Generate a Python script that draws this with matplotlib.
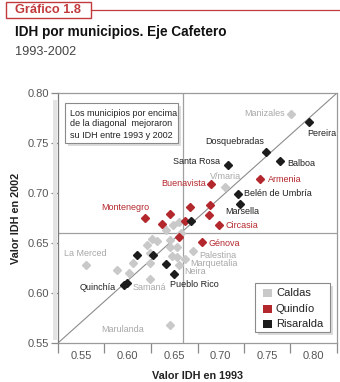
import matplotlib
matplotlib.use("Agg")
import matplotlib.pyplot as plt
from matplotlib.patches import Rectangle
from matplotlib.lines import Line2D
import numpy as np

plt.rcParams['font.family'] = ['Liberation Sans', 'DejaVu Sans']

# IDH 1993 (x) y 2002 (y) por departamento
caldas_x = [0.759, 0.700, 0.653, 0.658, 0.647, 0.660, 0.639, 0.634, 0.630, 0.650,
            0.657, 0.650, 0.652, 0.657, 0.632, 0.617, 0.632, 0.603, 0.614, 0.632,
            0.671, 0.664, 0.658, 0.575, 0.650]
caldas_y = [0.779, 0.706, 0.668, 0.671, 0.663, 0.660, 0.652, 0.654, 0.648, 0.653,
            0.646, 0.646, 0.637, 0.636, 0.640, 0.630, 0.630, 0.623, 0.620, 0.614,
            0.642, 0.634, 0.628, 0.628, 0.568]
quindio_x = [0.687, 0.731, 0.628, 0.650, 0.668, 0.686, 0.685, 0.643, 0.664, 0.694,
             0.658, 0.679]
quindio_y = [0.709, 0.714, 0.675, 0.679, 0.686, 0.688, 0.678, 0.669, 0.672, 0.668,
             0.656, 0.651]
risaralda_x = [0.775, 0.736, 0.702, 0.749, 0.711, 0.713, 0.669, 0.621, 0.635, 0.647,
               0.654, 0.609, 0.612]
risaralda_y = [0.771, 0.741, 0.728, 0.732, 0.699, 0.689, 0.672, 0.638, 0.638, 0.629,
               0.619, 0.608, 0.610]

# etiquetas: (nombre, serie, indice, dx px, dy px, alineacion)
labels = [
    ("Manizales", "c", 0, -6, 1, "right"),
    ("V/maria", "c", 1, 0, 10.5, "center"),
    ("Palestina", "c", 20, 6, -4, "left"),
    ("Marquetalia", "c", 21, 5, -4.5, "left"),
    ("Neira", "c", 22, 5.5, -7, "left"),
    ("La Merced", "c", 23, -1, 12, "center"),
    ("Samaná", "c", 19, 0, -9, "center"),
    ("Marulanda", "c", 24, -26, -5, "right"),
    ("Buenavista", "q", 0, -5, 1, "right"),
    ("Armenia", "q", 1, 8, -1, "left"),
    ("Montenegro", "q", 2, 4, 10, "right"),
    ("Circasia", "q", 9, 7, 0, "left"),
    ("Génova", "q", 11, 7, -1, "left"),
    ("Pereira", "r", 0, -2, -11, "left"),
    ("Dosquebradas", "r", 1, -1, 10, "right"),
    ("Santa Rosa", "r", 2, -8, 4, "right"),
    ("Balboa", "r", 3, 7, -3, "left"),
    ("Belén de Umbría", "r", 4, 6, 0, "left"),
    ("Marsella", "r", 5, 2, -8, "center"),
    ("Pueblo Rico", "r", 10, -4, -10.7, "left"),
    ("Quinchía", "r", 11, -8, -2.7, "right"),
]

ref_x = 0.662
ref_y = 0.66
ticks = ["0.55", "0.60", "0.65", "0.70", "0.75", "0.80"]

C_GRAY = "#c9c9c9"
C_RED = "#b3282d"
C_BLACK = "#1c1c1c"
colors = {"c": C_GRAY, "q": C_RED, "r": C_BLACK}
txt_colors = {"c": "#a8a8a8", "q": C_RED, "r": "#222222"}
series = {"c": (caldas_x, caldas_y), "q": (quindio_x, quindio_y),
          "r": (risaralda_x, risaralda_y)}

W, H = 340, 382


def fx(px):
    return px / W


def fy(py):
    return 1 - py / H


fig = plt.figure(figsize=(W / 100, H / 100), dpi=100)

# encabezado
red = "#c13a3c"
fig.patches.append(Rectangle((fx(6), fy(18)), fx(91) - fx(6), fy(2) - fy(18),
                             transform=fig.transFigure, facecolor="white",
                             edgecolor=red, lw=1.0))
fig.lines.append(Line2D([fx(91), fx(340)], [fy(9.5), fy(9.5)],
                        transform=fig.transFigure, color=red, lw=0.9))
fig.text(fx(48), fy(10), "Gráfico 1.8", color=red, fontsize=9.2,
         fontweight="bold", va="center", ha="center")
fig.text(fx(15), fy(32), "IDH por municipios. Eje Cafetero", color="#111111",
         fontsize=9.8, fontweight="bold", va="center", ha="left")
fig.text(fx(15), fy(52), "1993-2002", color="#444444", fontsize=9.2,
         va="center", ha="left")

# sombra del area del grafico
fig.patches.append(Rectangle((fx(53), fy(340)), fx(4), fy(100) - fy(340),
                             transform=fig.transFigure, facecolor="#e3e3e3",
                             edgecolor="none"))

ax = fig.add_axes([fx(58), fy(343), fx(337) - fx(58), fy(93) - fy(343)])
ax.set_xlim(0.55, 0.80)
ax.set_ylim(0.55, 0.80)

for s in ax.spines.values():
    s.set_color("#9a9a9a")
    s.set_linewidth(0.9)
ax.spines["left"].set_color("#7a7a7a")

ax.plot([0.55, 0.80], [0.55, 0.80], color="#8c8c8c", lw=0.8, zorder=1)
ax.axvline(ref_x, color="#a0a0a0", lw=0.9, zorder=1)
ax.axhline(ref_y, color="#a0a0a0", lw=0.9, zorder=1)

for k in ["c", "q", "r"]:
    xs, ys = series[k]
    ax.plot(xs, ys, ls="none", marker="D", ms=4.2, color=colors[k],
            mec=colors[k], zorder=3)

for name, k, i, dx, dy, ha in labels:
    xs, ys = series[k]
    ax.annotate(name, (xs[i], ys[i]), xytext=(dx * 0.72, dy * 0.72),
                textcoords="offset points", ha=ha, va="center", fontsize=6.5,
                color=txt_colors[k], zorder=4)

# ejes
edges = np.linspace(0.55, 0.80, 7)
mids = (edges[:-1] + edges[1:]) / 2
ax.set_xticks(edges)
ax.set_xticklabels([""] * len(edges))
ax.set_xticks(mids, minor=True)
ax.set_xticklabels(ticks, minor=True)
ax.tick_params(axis="x", which="major", length=7, width=0.9, color="#8a8a8a",
               direction="out")
ax.tick_params(axis="x", which="minor", length=0, pad=6, labelsize=8,
               labelcolor="#555555")
ax.set_yticks([0.55, 0.60, 0.65, 0.70, 0.75, 0.80])
ax.set_yticklabels(ticks)
ax.tick_params(axis="y", length=5, width=0.9, color="#8a8a8a", pad=1.5,
               labelsize=8, labelcolor="#555555")

fig.text(fx(197), fy(381), "Valor IDH en 1993", fontsize=7.8, fontweight="bold",
         color="#222222", ha="center", va="bottom")
fig.text(fx(16), fy(218), "Valor IDH en 2002", fontsize=7.8, fontweight="bold",
         color="#222222", ha="center", va="center", rotation=90)

# cuadro de nota
fig.patches.append(Rectangle((fx(68), fy(146)), fx(178) - fx(65), fy(103) - fy(143),
                             transform=fig.transFigure, facecolor="#dcdcdc",
                             edgecolor="none", zorder=5))
fig.patches.append(Rectangle((fx(65), fy(143)), fx(178) - fx(65), fy(103) - fy(143),
                             transform=fig.transFigure, facecolor="white",
                             edgecolor="#8a8a8a", lw=0.8, zorder=6))
nota = ["Los municipios por encima", "de la diagonal  mejoraron",
        "su IDH entre 1993 y 2002"]
for j, line in enumerate(nota):
    t = fig.text(fx(70), fy(113 + j * 11), line, fontsize=6.5, color="#222222",
                 ha="left", va="center")
    t.set_zorder(7)

# leyenda
fig.patches.append(Rectangle((fx(258), fy(335)), fx(330) - fx(255), fy(283) - fy(332),
                             transform=fig.transFigure, facecolor="#dcdcdc",
                             edgecolor="none", zorder=5))
fig.patches.append(Rectangle((fx(255), fy(332)), fx(330) - fx(255), fy(283) - fy(332),
                             transform=fig.transFigure, facecolor="white",
                             edgecolor="#8a8a8a", lw=0.8, zorder=6))
leg = [("Caldas", C_GRAY), ("Quindío", C_RED), ("Risaralda", C_BLACK)]
for j, (name, col) in enumerate(leg):
    yy = 293 + j * 15.5
    fig.patches.append(Rectangle((fx(263), fy(yy + 4)), fx(9), fy(0) - fy(8),
                                 transform=fig.transFigure, facecolor=col,
                                 edgecolor="none", zorder=7))
    t = fig.text(fx(276), fy(yy), name, fontsize=8, color="#222222",
                 ha="left", va="center")
    t.set_zorder(7)

fig.savefig("out.png", dpi=100)
